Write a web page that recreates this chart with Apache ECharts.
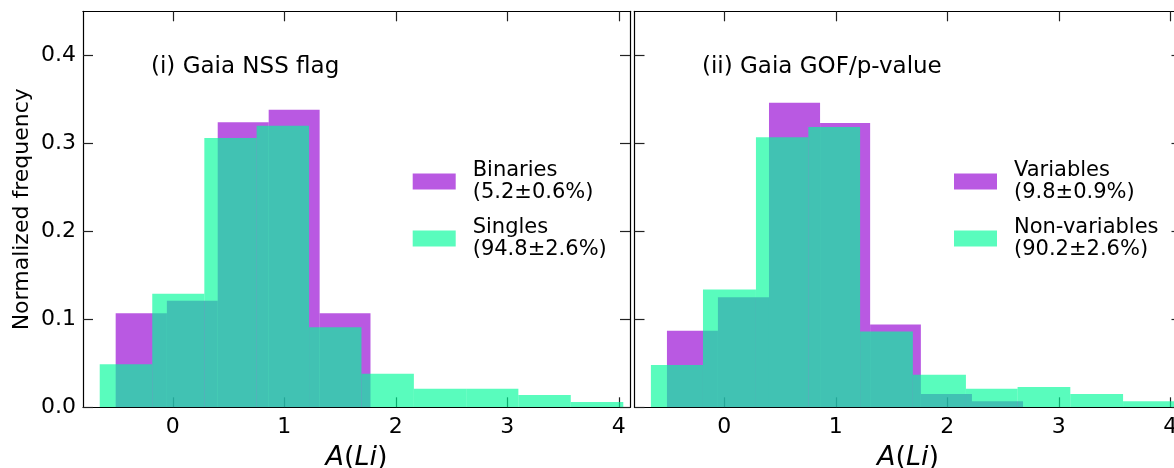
<!DOCTYPE html>
<html>
<head>
<meta charset="utf-8">
<script src="https://cdn.jsdelivr.net/npm/echarts@6/dist/echarts.min.js"></script>
<style>
html,body{margin:0;padding:0;background:#fff;}
#chart{width:1174px;height:468px;}
</style>
</head>
<body>
<div id="chart"></div>
<script>
// ---- data ----
const xTicks = [0, 1, 2, 3, 4];
const yTicks = [0, 0.1, 0.2, 0.3, 0.4];

const panelTitles = ['(i) Gaia NSS flag', '(ii) Gaia GOF/p-value'];

// Panel (i)
const binariesName = 'Binaries\n(5.2±0.6%)';
const binariesEdges = [-0.512, -0.053, 0.403, 0.860, 1.317, 1.773];
const binariesFreq = [0.107, 0.121, 0.324, 0.338, 0.107];

const singlesName = 'Singles\n(94.8±2.6%)';
const singlesEdges = [-0.655, -0.184, 0.283, 0.752, 1.222, 1.692, 2.162, 2.631, 3.099, 3.569, 4.040];
const singlesFreq = [0.049, 0.129, 0.306, 0.320, 0.091, 0.038, 0.021, 0.021, 0.014, 0.006];

// Panel (ii)
const variablesName = 'Variables\n(9.8±0.9%)';
const variablesEdges = [-0.514, -0.057, 0.401, 0.859, 1.308, 1.763, 2.221, 2.679];
const variablesFreq = [0.087, 0.125, 0.346, 0.323, 0.094, 0.015, 0.007];

const nonVariablesName = 'Non-variables\n(90.2±2.6%)';
const nonVariablesEdges = [-0.658, -0.191, 0.284, 0.754, 1.218, 1.691, 2.167, 2.630, 3.103, 3.576, 4.050];
const nonVariablesFreq = [0.048, 0.134, 0.307, 0.3185, 0.086, 0.037, 0.021, 0.023, 0.015, 0.007];

// ---- styling ----
const FONT = 'DejaVu Sans';
const MAGENTA = 'rgba(148,0,211,0.65)';
const GREEN = 'rgba(0,250,154,0.65)';
const XMIN = -0.805, XMAX = 4.1, YMIN = 0, YMAX = 0.45;

function histData(edges, freq) {
  const out = [];
  for (let i = 0; i < freq.length; i++) out.push([edges[i], edges[i + 1], freq[i]]);
  return out;
}

function renderBin(params, api) {
  const p0 = api.coord([api.value(0), api.value(2)]);
  const p1 = api.coord([api.value(1), 0]);
  return {
    type: 'rect',
    shape: { x: p0[0], y: p0[1], width: p1[0] - p0[0], height: p1[1] - p0[1] },
    style: { fill: api.visual('color') }
  };
}

function histSeries(name, edges, freq, color, idx) {
  return {
    type: 'custom', name: name, xAxisIndex: idx * 2, yAxisIndex: idx * 2,
    renderItem: renderBin, clip: true,
    itemStyle: { color: color },
    encode: { x: [0, 1], y: 2 },
    data: histData(edges, freq)
  };
}

const lineStyle = { color: '#000', width: 1.2 };
const tickStyle = { color: '#222', width: 1.2 };

function xAxes(grid) {
  return [
    {
      type: 'value', gridIndex: grid, position: 'bottom', min: XMIN, max: XMAX,
      axisLine: { show: true, onZero: false, lineStyle: lineStyle },
      axisTick: { show: true, inside: true, length: 10, lineStyle: tickStyle, customValues: xTicks },
      axisLabel: { show: true, customValues: xTicks, margin: 9, color: '#000', fontFamily: FONT, fontSize: 22 },
      splitLine: { show: false },
      name: '{i|A}({i|Li})', nameLocation: 'middle', nameGap: 37,
      nameTextStyle: {
        fontFamily: FONT, fontSize: 27, color: '#000',
        rich: { i: { fontFamily: FONT, fontSize: 27, fontStyle: 'italic', color: '#000' } }
      }
    },
    {
      type: 'value', gridIndex: grid, position: 'top', min: XMIN, max: XMAX,
      axisLine: { show: true, onZero: false, lineStyle: lineStyle },
      axisTick: { show: true, inside: true, length: 10, lineStyle: tickStyle, customValues: xTicks },
      axisLabel: { show: false, customValues: xTicks },
      splitLine: { show: false }
    }
  ];
}

function yAxes(grid, withLabels) {
  return [
    {
      type: 'value', gridIndex: grid, position: 'left', min: YMIN, max: YMAX,
      axisLine: { show: true, onZero: false, lineStyle: lineStyle },
      axisTick: { show: true, inside: true, length: 10, lineStyle: tickStyle, customValues: yTicks },
      axisLabel: {
        show: withLabels, customValues: yTicks, margin: 7, color: '#000', fontFamily: FONT, fontSize: 22,
        formatter: v => v.toFixed(1)
      },
      splitLine: { show: false },
      name: withLabels ? 'Normalized frequency' : '', nameLocation: 'middle', nameGap: 50,
      nameTextStyle: { fontFamily: FONT, fontSize: 22, color: '#000' }
    },
    {
      type: 'value', gridIndex: grid, position: 'right', min: YMIN, max: YMAX,
      axisLine: { show: true, onZero: false, lineStyle: lineStyle },
      axisTick: { show: true, inside: true, length: 10, lineStyle: tickStyle, customValues: yTicks },
      axisLabel: { show: false, customValues: yTicks },
      splitLine: { show: false }
    }
  ];
}

function legendFor(names, left) {
  return {
    data: names, left: left, top: 159, orient: 'vertical',
    icon: 'rect', itemWidth: 43, itemHeight: 16, itemGap: 12, padding: 0,
    selectedMode: false,
    textStyle: { fontFamily: FONT, fontSize: 21, lineHeight: 22.5, color: '#000', padding: [0, 0, 0, 12] }
  };
}

const chart = echarts.init(document.getElementById('chart'), null, { renderer: 'canvas' });
chart.setOption({
  animation: false,
  backgroundColor: '#fff',
  grid: [
    { left: 83, top: 11.3, width: 547, height: 396, containLabel: false, outerBoundsMode: 'none' },
    { left: 634.5, top: 11.3, width: 547, height: 396, containLabel: false, outerBoundsMode: 'none' }
  ],
  title: [
    { text: panelTitles[0], left: 151, top: 56, padding: 0,
      textStyle: { fontFamily: FONT, fontSize: 23, fontWeight: 'normal', color: '#000' } },
    { text: panelTitles[1], left: 702, top: 56, padding: 0,
      textStyle: { fontFamily: FONT, fontSize: 23, fontWeight: 'normal', color: '#000' } }
  ],
  legend: [
    legendFor([binariesName, singlesName], 412.7),
    legendFor([variablesName, nonVariablesName], 954)
  ],
  xAxis: [...xAxes(0), ...xAxes(1)],
  yAxis: [...yAxes(0, true), ...yAxes(1, false)],
  series: [
    histSeries(binariesName, binariesEdges, binariesFreq, MAGENTA, 0),
    histSeries(singlesName, singlesEdges, singlesFreq, GREEN, 0),
    histSeries(variablesName, variablesEdges, variablesFreq, MAGENTA, 1),
    histSeries(nonVariablesName, nonVariablesEdges, nonVariablesFreq, GREEN, 1)
  ]
});
</script>
</body>
</html>
